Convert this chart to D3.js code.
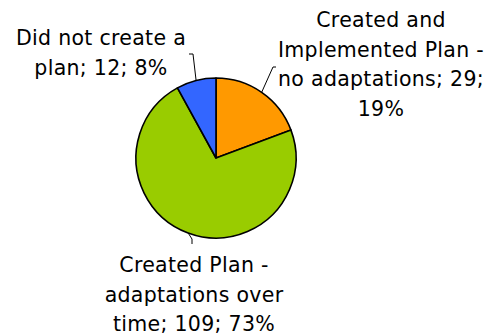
<!DOCTYPE html>
<html><head><meta charset="utf-8">
<script src="https://cdn.jsdelivr.net/npm/d3@7"></script>
<style>body{margin:0;background:#fff}svg{display:block}</style>
</head><body>
<script>
const categories = ["Created and Implemented Plan - no adaptations", "Created Plan - adaptations over time", "Did not create a plan"];
const values = [29, 109, 12];
const percents = ["19%", "73%", "8%"];
const colors = ["#FF9900", "#99CC00", "#3366FF"];

// label layout: line breaks, label centre, leader end points
const labelLines = [
  ["Created and", "Implemented Plan -", "no adaptations; 29;", "19%"],
  ["Created Plan -", "adaptations over", "time; 109; 73%"],
  ["Did not create a", "plan; 12; 8%"]
];
const labelX = [381, 194, 101];
const labelY0 = [27, 272, 45];
const leaderEnd = [[273, 67, 276, 67], [192, 239, 192, 244], [193, 54, 189, 54]];

const W = 487, H = 335, cx = 216, cy = 158, R = 80;
const svg = d3.select("body").append("svg").attr("width", W).attr("height", H);
const pie = d3.pie().sort(null).value(d => d)(values);
const arc = d3.arc().innerRadius(0).outerRadius(R);
const g = svg.append("g").attr("transform", `translate(${cx},${cy})`);
g.selectAll("path").data(pie).join("path")
  .attr("d", arc).attr("fill", (d, i) => colors[i])
  .attr("stroke", "#000").attr("stroke-width", 1.6).attr("stroke-linejoin", "round");

pie.forEach((d, i) => {
  const a = (d.startAngle + d.endAngle) / 2;
  const sx = cx + R * Math.sin(a), sy = cy - R * Math.cos(a);
  const e = leaderEnd[i];
  svg.append("path")
    .attr("d", `M${sx},${sy}L${e[0]},${e[1]}L${e[2]},${e[3]}`)
    .attr("fill", "none").attr("stroke", "#000").attr("stroke-width", 1);
  const t = svg.append("text").attr("text-anchor", "middle")
    .attr("font-family", "DejaVu Sans, sans-serif").attr("font-size", 20.5)
    .attr("letter-spacing", 0.3).attr("fill", "#000");
  labelLines[i].forEach((ln, k) => {
    t.append("tspan").attr("x", labelX[i]).attr("y", labelY0[i] + k * 29.5).text(ln);
  });
});
</script>
</body></html>
